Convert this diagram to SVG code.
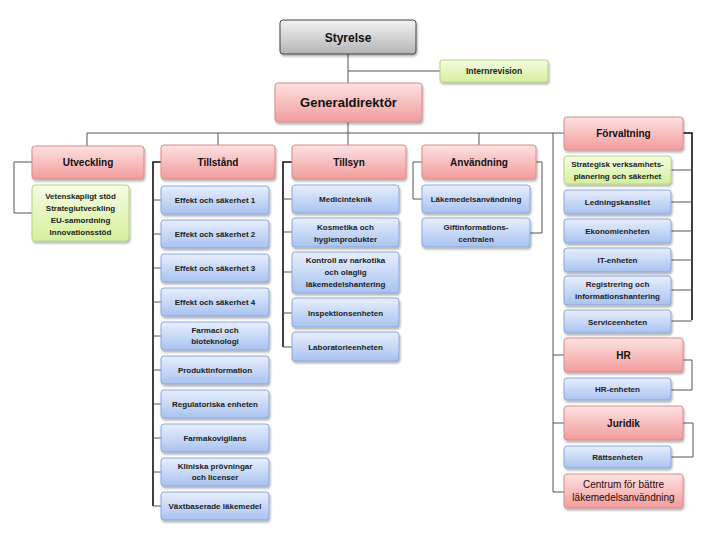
<svg xmlns="http://www.w3.org/2000/svg" width="720" height="540" viewBox="0 0 720 540">
<defs>
<linearGradient id="gRed" x1="0" y1="0" x2="0" y2="1"><stop offset="0" stop-color="#fde2e2"/><stop offset="1" stop-color="#f29c9c"/></linearGradient>
<linearGradient id="gBlue" x1="0" y1="0" x2="0" y2="1"><stop offset="0" stop-color="#e8effc"/><stop offset="1" stop-color="#a8c3f0"/></linearGradient>
<linearGradient id="gGreen" x1="0" y1="0" x2="0" y2="1"><stop offset="0" stop-color="#f5fce4"/><stop offset="1" stop-color="#d4f09c"/></linearGradient>
<linearGradient id="gGray" x1="0" y1="0" x2="0" y2="1"><stop offset="0" stop-color="#f4f4f4"/><stop offset="1" stop-color="#b4b4b4"/></linearGradient>
<filter id="sh" x="-10%" y="-20%" width="125%" height="160%"><feDropShadow dx="1" dy="2" stdDeviation="1.2" flood-color="#000" flood-opacity="0.3"/></filter>
<style>
.red{fill:url(#gRed);stroke:#d98a8a;stroke-width:1;filter:url(#sh)}
.blue{fill:url(#gBlue);stroke:#8aa8dc;stroke-width:1;filter:url(#sh)}
.green{fill:url(#gGreen);stroke:#b7d47e;stroke-width:1;filter:url(#sh)}
.gray{fill:url(#gGray);stroke:#444;stroke-width:1;filter:url(#sh)}
text{font-family:"Liberation Sans",Arial,sans-serif;text-anchor:middle;fill:#111}
.h{font-size:10px;font-weight:bold}
.s{font-size:8px;font-weight:bold;fill:#1c1c1c}
.ln{fill:none;stroke:#555;stroke-width:1}
.lk{fill:none;stroke:#111;stroke-width:1.6}
</style>
</defs>

<g id="connectors">
<path class="ln" d="M348 54V145M348 71H440"/>
<path class="ln" d="M87 146V133H564M218 133V145M479 133V145M553 133V492"/>
<path class="ln" d="M553 355H564M553 423H564M553 492H564"/>
<path class="ln" d="M32 162H14V213H32"/>
<path class="lk" d="M161 162H153V506"/>
<path class="ln" d="M153 200H161M153 234H161M153 268H161M153 302H161M153 336H161M153 370H161M153 404H161M153 438H161M153 472H161M153 506H161"/>
<path class="lk" d="M292 162H283V347"/>
<path class="ln" d="M283 199H292M283 232H292M283 272H292M283 313H292M283 347H292"/>
<path class="ln" d="M422 162H413V199H422M536 162H542V233H530"/>
<path class="lk" d="M683 133H692V320"/>
<path class="ln" d="M671 170H692M671 202H692M671 231H692M671 260H692M671 290H692M671 321H692"/>
<path class="ln" d="M683 360H692V390H671M683 423H693V457H671"/>
</g>

<g id="styrelse"><rect class="gray" x="280" y="20" width="136" height="34" rx="3"/><text x="348" y="41.5" style="font-size:12px;font-weight:bold">Styrelse</text></g>
<g id="internrevision"><rect class="green" x="440" y="60" width="108" height="22" rx="2"/><text class="s" x="494" y="74" style="font-size:8.5px">Internrevision</text></g>
<g id="generaldirektor"><rect class="red" x="275" y="83" width="147" height="39" rx="3"/><text x="348.5" y="107" style="font-size:13px;font-weight:bold">Generaldirektör</text></g>

<g id="utveckling"><rect class="red" x="32" y="146" width="112" height="33" rx="3"/><text class="h" x="88" y="166">Utveckling</text></g>
<g id="utveckling-stod"><rect class="green" x="32" y="185" width="97" height="56" rx="3"/>
<text class="s" x="80.5" y="199">Vetenskapligt stöd</text><text class="s" x="80.5" y="211">Strategiutveckling</text><text class="s" x="80.5" y="223">EU-samordning</text><text class="s" x="80.5" y="235">Innovationsstöd</text></g>

<g id="tillstand"><rect class="red" x="161" y="145" width="114" height="34" rx="3"/><text class="h" x="218" y="165.5">Tillstånd</text></g>
<g id="effekt1"><rect class="blue" x="161" y="186" width="108" height="28" rx="3"/><text class="s" x="215" y="203">Effekt och säkerhet 1</text></g>
<g id="effekt2"><rect class="blue" x="161" y="220" width="108" height="28" rx="3"/><text class="s" x="215" y="237">Effekt och säkerhet 2</text></g>
<g id="effekt3"><rect class="blue" x="161" y="254" width="108" height="28" rx="3"/><text class="s" x="215" y="271">Effekt och säkerhet 3</text></g>
<g id="effekt4"><rect class="blue" x="161" y="288" width="108" height="28" rx="3"/><text class="s" x="215" y="305">Effekt och säkerhet 4</text></g>
<g id="farmaci"><rect class="blue" x="161" y="322" width="108" height="28" rx="3"/><text class="s" x="215" y="333">Farmaci och</text><text class="s" x="215" y="344">bioteknologi</text></g>
<g id="produktinformation"><rect class="blue" x="161" y="356" width="108" height="28" rx="3"/><text class="s" x="215" y="373">Produktinformation</text></g>
<g id="regulatoriska"><rect class="blue" x="161" y="390" width="108" height="28" rx="3"/><text class="s" x="215" y="407">Regulatoriska enheten</text></g>
<g id="farmakovigilans"><rect class="blue" x="161" y="424" width="108" height="28" rx="3"/><text class="s" x="215" y="441">Farmakovigilans</text></g>
<g id="kliniska"><rect class="blue" x="161" y="458" width="108" height="28" rx="3"/><text class="s" x="215" y="469">Kliniska prövningar</text><text class="s" x="215" y="480">och licenser</text></g>
<g id="vaxtbaserade"><rect class="blue" x="161" y="492" width="108" height="28" rx="3"/><text class="s" x="215" y="509">Växtbaserade läkemedel</text></g>

<g id="tillsyn"><rect class="red" x="292" y="145" width="114" height="34" rx="3"/><text class="h" x="349" y="165.5">Tillsyn</text></g>
<g id="medicinteknik"><rect class="blue" x="292" y="185" width="107" height="28" rx="3"/><text class="s" x="345.5" y="202">Medicinteknik</text></g>
<g id="kosmetika"><rect class="blue" x="292" y="218" width="107" height="29" rx="3"/><text class="s" x="345.5" y="230">Kosmetika och</text><text class="s" x="345.5" y="242">hygienprodukter</text></g>
<g id="kontroll"><rect class="blue" x="292" y="252" width="107" height="41" rx="3"/><text class="s" x="345.5" y="263">Kontroll av narkotika</text><text class="s" x="345.5" y="275">och olaglig</text><text class="s" x="345.5" y="287">läkemedelshantering</text></g>
<g id="inspektion"><rect class="blue" x="292" y="298" width="107" height="29" rx="3"/><text class="s" x="345.5" y="315.5">Inspektionsenheten</text></g>
<g id="laboratorie"><rect class="blue" x="292" y="332" width="107" height="29" rx="3"/><text class="s" x="345.5" y="349.5">Laboratorieenheten</text></g>

<g id="anvandning"><rect class="red" x="422" y="145" width="114" height="34" rx="3"/><text class="h" x="479" y="165.5">Användning</text></g>
<g id="lakemedelsanvandning"><rect class="blue" x="422" y="185" width="108" height="28" rx="3"/><text class="s" x="476" y="202">Läkemedelsanvändning</text></g>
<g id="giftinformation"><rect class="blue" x="422" y="218" width="108" height="29" rx="3"/><text class="s" x="476" y="230">Giftinformations-</text><text class="s" x="476" y="242">centralen</text></g>

<g id="forvaltning"><rect class="red" x="564" y="117" width="119" height="33" rx="3"/><text class="h" x="623.5" y="137">Förvaltning</text></g>
<g id="strategisk"><rect class="green" x="564" y="156" width="107" height="28" rx="3"/><text class="s" x="617.5" y="167">Strategisk verksamhets-</text><text class="s" x="617.5" y="179">planering och säkerhet</text></g>
<g id="ledningskansliet"><rect class="blue" x="564" y="190" width="107" height="24" rx="3"/><text class="s" x="617.5" y="205">Ledningskansliet</text></g>
<g id="ekonomienheten"><rect class="blue" x="564" y="219" width="107" height="24" rx="3"/><text class="s" x="617.5" y="234">Ekonomienheten</text></g>
<g id="it-enheten"><rect class="blue" x="564" y="248" width="107" height="24" rx="3"/><text class="s" x="617.5" y="263">IT-enheten</text></g>
<g id="registrering"><rect class="blue" x="564" y="276" width="107" height="29" rx="3"/><text class="s" x="617.5" y="287">Registrering och</text><text class="s" x="617.5" y="299">informationshantering</text></g>
<g id="serviceenheten"><rect class="blue" x="564" y="310" width="107" height="23" rx="3"/><text class="s" x="617.5" y="324.5">Serviceenheten</text></g>

<g id="hr"><rect class="red" x="564" y="338" width="119" height="34" rx="3"/><text class="h" x="623.5" y="358.5">HR</text></g>
<g id="hr-enheten"><rect class="blue" x="564" y="378" width="107" height="22" rx="3"/><text class="s" x="617.5" y="392">HR-enheten</text></g>
<g id="juridik"><rect class="red" x="564" y="406" width="119" height="34" rx="3"/><text class="h" x="623.5" y="426.5">Juridik</text></g>
<g id="rattsenheten"><rect class="blue" x="564" y="446" width="107" height="22" rx="3"/><text class="s" x="617.5" y="460">Rättsenheten</text></g>
<g id="centrum"><rect class="red" x="564" y="474" width="119" height="34" rx="3"/><text x="623.5" y="488" style="font-size:10px;fill:#2a0a0a">Centrum för bättre</text><text x="623.5" y="500.5" style="font-size:10px;fill:#2a0a0a">läkemedelsanvändning</text></g>
</svg>
